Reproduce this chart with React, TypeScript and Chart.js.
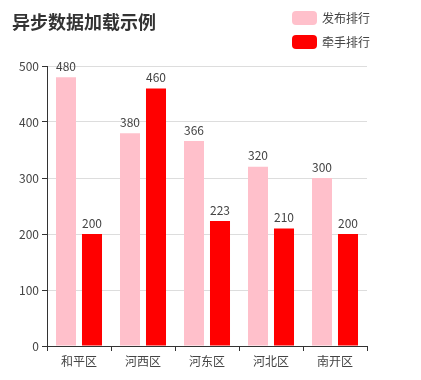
import React, { useEffect, useRef } from "react";
import { Chart, registerables } from "chart.js";

Chart.register(...registerables);

const titleText = "异步数据加载示例";
const categories = ["和平区", "河西区", "河东区", "河北区", "南开区"];
const seriesNames = ["发布排行", "牵手排行"];
const publishValues = [480, 380, 366, 320, 300];
const handValues = [200, 460, 223, 210, 200];
const seriesColors = ["#FFC0CB", "#FF0000"];
const yTicks = [0, 100, 200, 300, 400, 500];

const FONT = "'Microsoft YaHei', 'Noto Sans CJK SC', sans-serif";

const overlayPlugin = {
  id: "overlay",
  afterDraw(chart: any) {
    const ctx = chart.ctx as CanvasRenderingContext2D;
    ctx.save();
    // title
    ctx.font = `bold 18px ${FONT}`;
    ctx.fillStyle = "#333";
    ctx.textAlign = "left";
    ctx.textBaseline = "middle";
    ctx.fillText(titleText, 12, 22);
    // legend
    chart.data.datasets.forEach((ds: any, i: number) => {
      const x = 292;
      const y = 11 + i * 24;
      ctx.fillStyle = ds.backgroundColor;
      ctx.beginPath();
      (ctx as any).roundRect(x, y, 25, 14, 4);
      ctx.fill();
      ctx.font = `12px ${FONT}`;
      ctx.fillStyle = "#444";
      ctx.textAlign = "left";
      ctx.textBaseline = "middle";
      ctx.fillText(ds.label, x + 30, y + 7.5);
    });
    // value labels
    ctx.font = `12px ${FONT}`;
    ctx.fillStyle = "#444";
    ctx.textAlign = "center";
    ctx.textBaseline = "bottom";
    chart.data.datasets.forEach((ds: any, i: number) => {
      const meta = chart.getDatasetMeta(i);
      meta.data.forEach((bar: any, j: number) => {
        ctx.fillText(String(ds.data[j]), bar.x, bar.y - 5);
      });
    });
    ctx.restore();
  },
};

export default function App() {
  const ref = useRef<HTMLCanvasElement>(null);
  useEffect(() => {
    document.body.style.margin = "0";
    const chart = new Chart(ref.current!, {
      type: "bar",
      data: {
        labels: categories,
        datasets: [
          {
            label: seriesNames[0],
            data: publishValues,
            backgroundColor: seriesColors[0],
            categoryPercentage: 0.8125,
            barPercentage: 0.77,
          },
          {
            label: seriesNames[1],
            data: handValues,
            backgroundColor: seriesColors[1],
            categoryPercentage: 0.8125,
            barPercentage: 0.77,
          },
        ],
      },
      options: {
        responsive: false,
        animation: false,
        layout: { padding: { top: 66, right: 54, left: 0, bottom: 0 } },
        plugins: {
          legend: { display: false },
          title: { display: false },
          tooltip: { enabled: false },
        },
        scales: {
          x: {
            grid: {
              display: true,
              drawOnChartArea: false,
              tickColor: "#333",
              tickLength: 5,
              offset: true,
            },
            border: { color: "#333", width: 1 },
            ticks: {
              color: "#444",
              font: { family: FONT, size: 12 },
              padding: 3,
            },
            afterFit(scale: any) {
              scale.height = 34;
            },
          },
          y: {
            min: 0,
            max: 500,
            afterBuildTicks(scale: any) {
              scale.ticks = yTicks.map((v) => ({ value: v }));
            },
            grid: {
              color: "#ddd",
              tickColor: "#333",
              tickLength: 5,
            },
            border: { color: "#333", width: 1 },
            ticks: {
              color: "#444",
              font: { family: FONT, size: 12 },
              padding: 3,
            },
            afterFit(scale: any) {
              scale.width = 47;
            },
          },
        },
      },
      plugins: [overlayPlugin],
    });
    return () => chart.destroy();
  }, []);
  return (
    <div style={{ width: 421, height: 380 }}>
      <canvas ref={ref} width={421} height={380} />
    </div>
  );
}
